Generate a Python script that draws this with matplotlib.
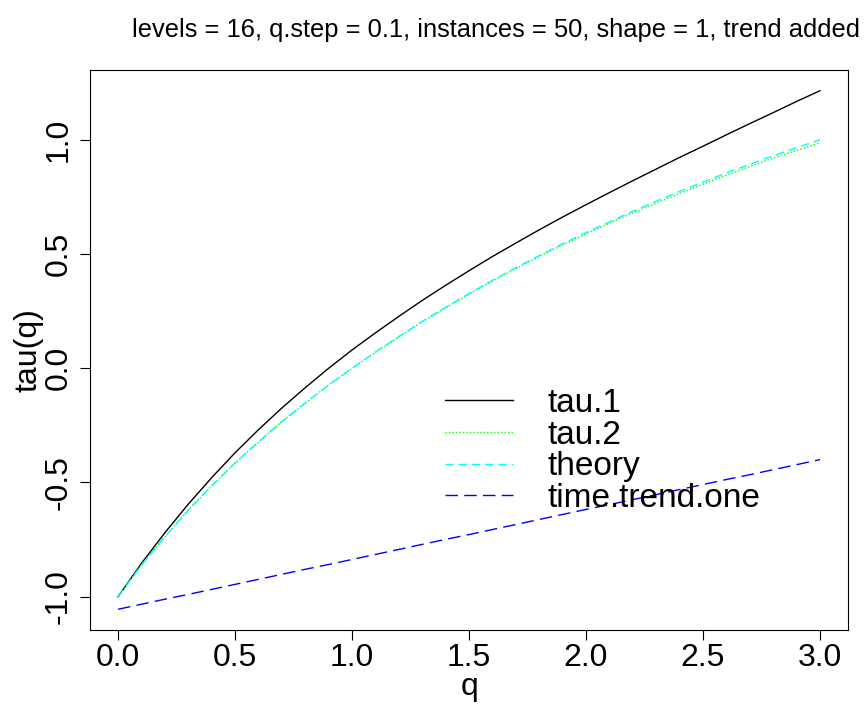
import numpy as np
import matplotlib
matplotlib.use('Agg')
import matplotlib.pyplot as plt

plt.rcParams['font.family'] = ['Liberation Sans', 'DejaVu Sans']

# q grid and the four curves
q = [0.0, 0.1, 0.2, 0.3, 0.4, 0.5, 0.6, 0.7, 0.8, 0.9, 1.0,
     1.1, 1.2, 1.3, 1.4, 1.5, 1.6, 1.7, 1.8, 1.9, 2.0,
     2.1, 2.2, 2.3, 2.4, 2.5, 2.6, 2.7, 2.8, 2.9, 3.0]

tau1 = [-1.000, -0.854, -0.720, -0.595, -0.479, -0.370, -0.269, -0.174, -0.085, 0.000, 0.080,
        0.155, 0.227, 0.297, 0.363, 0.427, 0.489, 0.548, 0.606, 0.662, 0.716,
        0.769, 0.821, 0.872, 0.923, 0.972, 1.022, 1.071, 1.119, 1.168, 1.215]

tau2 = [-1.002, -0.860, -0.738, -0.620, -0.516, -0.414, -0.323, -0.233, -0.153, -0.073, -0.001,
        0.070, 0.137, 0.203, 0.265, 0.324, 0.382, 0.436, 0.489, 0.540, 0.588,
        0.635, 0.680, 0.723, 0.765, 0.806, 0.845, 0.883, 0.920, 0.954, 0.987]

theory = [-1.000, -0.862, -0.737, -0.622, -0.515, -0.415, -0.322, -0.234, -0.152, -0.074, 0.000,
          0.071, 0.139, 0.205, 0.267, 0.327, 0.385, 0.440, 0.493, 0.545, 0.594,
          0.641, 0.687, 0.731, 0.774, 0.815, 0.855, 0.893, 0.930, 0.966, 1.000]

trend = [-1.055, -1.033, -1.011, -0.990, -0.968, -0.946, -0.924, -0.902, -0.880, -0.859, -0.837,
         -0.815, -0.793, -0.771, -0.749, -0.728, -0.706, -0.684, -0.662, -0.640, -0.618,
         -0.597, -0.575, -0.553, -0.531, -0.509, -0.487, -0.466, -0.444, -0.422, -0.400]

labels = ['tau.1', 'tau.2', 'theory', 'time.trend.one']
xticks = [0.0, 0.5, 1.0, 1.5, 2.0, 2.5, 3.0]
yticks = [-1.0, -0.5, 0.0, 0.5, 1.0]
title = 'levels = 16, q.step = 0.1, instances = 50, shape = 1, trend added'

W, H = 867, 713
fig = plt.figure(figsize=(W / 100, H / 100), dpi=100)
ax = fig.add_axes([90 / W, 1 - 630 / H, (848 - 90) / W, (630 - 70) / H])

ax.plot(q, tau1, color='black', lw=1.0, label=labels[0])
ax.plot(q, tau2, color='#00ff00', lw=1.0, ls=(0, (1, 1.5)), label=labels[1])
ax.plot(q, theory, color='#00ffff', lw=1.0, ls=(0, (6, 3.5)), label=labels[2])
ax.plot(q, trend, color='#0000ff', lw=1.0, ls=(0, (9, 4.5)), label=labels[3])

ax.margins(0.04)
ax.set_xticks(xticks)
ax.set_xticklabels(['%.1f' % v for v in xticks])
ax.set_yticks(yticks)
ax.set_yticklabels(['%.1f' % v for v in yticks], rotation=90, va='center')
ax.tick_params(direction='out', length=7, width=0.8, labelsize=23)
ax.tick_params(axis='x', pad=2)
ax.tick_params(axis='y', pad=5)
for s in ax.spines.values():
    s.set_linewidth(0.8)

ax.set_xlabel('q', fontsize=23, labelpad=0)
ax.set_ylabel('tau(q)', fontsize=23, labelpad=0)
fig.text(496 / W, 1 - 30 / H, title, ha='center', va='center', fontsize=18.4)

ax.legend(loc='upper left', bbox_to_anchor=(445 / W, 1 - 388 / H),
          bbox_transform=fig.transFigure, frameon=False, fontsize=24,
          handlelength=2.05, handletextpad=1.02, labelspacing=0.02,
          borderpad=0, borderaxespad=0)

fig.savefig('out.png', dpi=100)
